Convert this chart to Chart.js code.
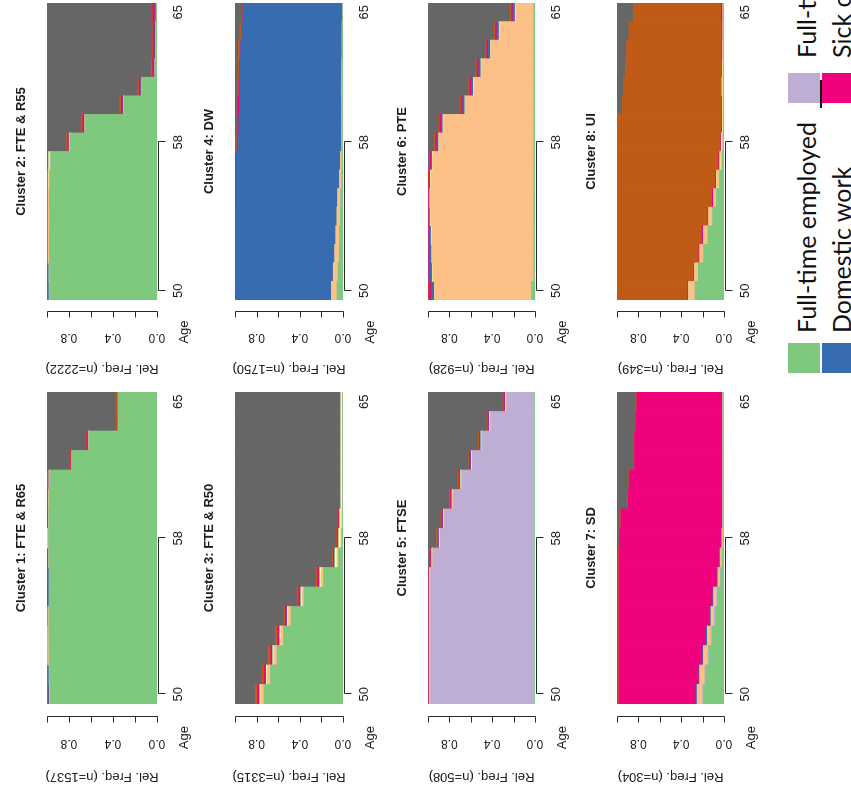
<!DOCTYPE html>
<html>
<head>
<meta charset="utf-8">
<script src="https://cdn.jsdelivr.net/npm/chart.js@4.4.1/dist/chart.umd.min.js"></script>
<style>
  html, body { margin: 0; padding: 0; background: #fff; overflow: hidden; }
  body { width: 851px; height: 792px; position: relative; }
  /* the figure is laid out upright (792 x 851) and turned a quarter turn to the left */
  #figure {
    position: absolute; left: 0; top: 0;
    width: 792px; height: 851px; overflow: hidden; background: #fff;
    transform-origin: 0 0;
    transform: translate(0px, 792px) rotate(-90deg);
  }
  #figure canvas { position: absolute; }
  .swatch { position: absolute; }
  .key { position: absolute; font-family: Lato, "Open Sans", sans-serif; font-size: 25px; color: #111; white-space: nowrap; line-height: 1; }
</style>
</head>
<body>
<div id="figure"></div>
<script>
// Ages on the horizontal axis of every panel
const ages = [50, 51, 52, 53, 54, 55, 56, 57, 58, 59, 60, 61, 62, 63, 64, 65];
const ageTickLabels = [50, 58, 65];
const ageTickMarks = [50, 58];
const freqTicks = [0, 0.2, 0.4, 0.6, 0.8, 1.0];
const freqTickLabels = [0, 0.4, 0.8];

// States, stacked from the bottom of each bar upwards
const stateNames = ["Full-time employed", "Full-time self-employed", "Part-time employed",
  "Part-time self-employed", "Domestic work", "Sick or disabled", "Unemployed/inactive", "Retired"];
const stateColors = ["#7FC97F", "#BEAED4", "#FDC086", "#FFFF99", "#386CB0", "#F0027F", "#BF5B17", "#666666"];

const clusterTitles = ["Cluster 1: FTE & R65", "Cluster 2: FTE & R55", "Cluster 3: FTE & R50", "Cluster 4: DW",
  "Cluster 5: FTSE", "Cluster 6: PTE", "Cluster 7: SD", "Cluster 8: UI"];
const clusterSizes = [1537, 2222, 3315, 1750, 508, 928, 304, 349];

// Share of each state (%) per age, one row per age 50..65
// columns: FTE, FTSE, PTE, PTSE, DW, SD, UI, R
const cluster1 = [
  [97, 0, 0.5, 0, 1, 0, 1.5, 0],
  [97.5, 0, 0.5, 0, 0.8, 0, 1.2, 0],
  [98, 0, 1.2, 0, 0.3, 0, 0.5, 0],
  [98, 0.2, 1, 0, 0.3, 0, 0.5, 0],
  [98.2, 0, 0.8, 0, 0.5, 0, 0.5, 0],
  [97.8, 0, 0.2, 0, 1.5, 0, 0.5, 0],
  [97.8, 0, 0.2, 0, 1.5, 0, 0.3, 0.2],
  [98, 0, 0.3, 0, 1.2, 0, 0.3, 0.2],
  [98.5, 0, 0.7, 0.3, 0.2, 0, 0.1, 0.2],
  [98.3, 0, 0.5, 0, 0.2, 0.2, 0.6, 0.2],
  [98, 0, 0.6, 0, 0.2, 0.2, 0.8, 0.2],
  [97.5, 0, 0.6, 0, 0.2, 0.3, 0.9, 0.5],
  [77, 0, 0.3, 0, 0.2, 0.8, 0.5, 21.2],
  [62, 0, 0.3, 0, 0.5, 1, 0.5, 35.7],
  [35, 0, 0.3, 0, 0.3, 0.6, 1.2, 62.6],
  [35, 0, 0.3, 0, 0.3, 0.4, 1.3, 62.7]
];
const cluster2 = [
  [97.5, 0, 0.5, 0, 1, 0, 0.5, 0.5],
  [97.5, 0, 0.6, 0, 0.9, 0, 0.5, 0.5],
  [97.8, 0, 1, 0.2, 0.3, 0, 0.5, 0.2],
  [97.8, 0, 1, 0.2, 0.3, 0, 0.5, 0.2],
  [97.6, 0, 1.2, 0.2, 0.3, 0, 0.5, 0.2],
  [97.8, 0, 1, 0.2, 0.3, 0, 0.5, 0.2],
  [97.5, 0, 1, 0.5, 0.3, 0, 0.5, 0.2],
  [96.5, 0, 1, 1, 0.3, 0.2, 0.5, 0.5],
  [79, 0, 0.5, 0.3, 0.2, 1.2, 1, 17.8],
  [65, 0, 0.5, 0, 0.5, 1.5, 1.5, 31],
  [30, 0, 0.5, 0, 0.5, 1.5, 1.5, 66],
  [14, 0, 0.3, 0, 0.5, 1.5, 1.2, 82.5],
  [1.5, 0, 0.3, 0, 0.7, 1.5, 1, 95],
  [1, 0, 0.2, 0, 0.8, 1.5, 1, 95.5],
  [0.8, 0, 0.2, 0, 1, 1.5, 0.5, 96],
  [0.5, 0, 0.2, 0, 1, 2, 0.3, 96]
];
const cluster3 = [
  [73, 0, 3, 1, 0.5, 1.5, 2, 19],
  [67, 0, 3, 1, 0.5, 1.5, 2, 25],
  [61, 0, 3, 1, 0.5, 1.5, 2, 31],
  [55, 0, 2.5, 1, 0.5, 1.5, 2, 37.5],
  [48, 0, 2.5, 1, 0.5, 1.5, 1.5, 45],
  [36, 0, 2, 1, 0.5, 1.5, 1.5, 57.5],
  [18, 0, 2, 1.5, 0.5, 1.5, 1.5, 75],
  [4, 0, 1.5, 2, 0.5, 1, 1, 90],
  [1, 0, 1, 2, 0.5, 1, 1, 93.5],
  [0.5, 0, 0.5, 2, 0.3, 0.7, 0.5, 95.5],
  [0.3, 0, 0.3, 1.5, 0.2, 0.5, 0.5, 96.7],
  [0.3, 0, 0.3, 1.5, 0.2, 0.5, 0.5, 96.7],
  [0.3, 0, 0.3, 1.5, 0.2, 0.5, 0.5, 96.7],
  [0.3, 0, 0.3, 1.5, 0.2, 0.5, 0.5, 96.7],
  [0.3, 0, 0.3, 1.5, 0.2, 0.5, 0.5, 96.7],
  [0.3, 0, 0.3, 1.5, 0.2, 0.5, 0.5, 96.7]
];
const cluster4 = [
  [5.5, 0, 5, 0, 89, 0, 0.5, 0],
  [4.5, 0, 4.5, 0, 90.5, 0, 0.5, 0],
  [3.5, 0, 4, 0, 92, 0, 0.5, 0],
  [3, 0, 3.5, 0, 93, 0, 0.5, 0],
  [2.5, 0, 3, 0, 94, 0, 0.5, 0],
  [2, 0, 2.8, 0, 94.5, 0.2, 0.5, 0],
  [1.2, 0, 2, 0, 95.8, 0.5, 0.5, 0],
  [0.8, 0, 1.5, 0, 96.5, 0.5, 0.5, 0.2],
  [0.4, 0.2, 0.4, 0, 96.5, 0.5, 0.5, 1.5],
  [0.4, 0.2, 0.4, 0, 95.5, 1, 0.5, 2],
  [0.4, 0.3, 0.3, 0, 95, 1.5, 0.5, 2],
  [0.5, 0.3, 0.3, 0, 95, 0.3, 1, 2.6],
  [0.5, 0.2, 0.3, 0, 94.5, 0.3, 1.5, 2.7],
  [0.5, 0, 0.3, 0, 94, 0.2, 2, 3],
  [0.5, 0, 0.3, 0, 93.2, 0, 1.5, 4.5],
  [0.3, 0, 0.3, 0, 92, 0, 0.4, 7]
];
const cluster5 = [
  [0.5, 97, 0.5, 0.5, 0.5, 0.3, 0.5, 0.2],
  [0.5, 97, 0.5, 0.5, 0.5, 0.3, 0.5, 0.2],
  [0.5, 97, 0.5, 0.5, 0.5, 0.3, 0.5, 0.2],
  [0.5, 97, 0.5, 0.5, 0.5, 0.3, 0.5, 0.2],
  [0.5, 97, 0.5, 0.5, 0.5, 0.3, 0.5, 0.2],
  [0.5, 97, 0.5, 0.5, 0.5, 0.3, 0.5, 0.2],
  [0.5, 97, 0.5, 0.5, 0.5, 0.3, 0.5, 0.2],
  [0.5, 95, 0.5, 0.5, 0.5, 0.5, 0.5, 2],
  [0.5, 88, 0.5, 0.5, 0.5, 0.5, 1.5, 8],
  [0.5, 84, 0.5, 0.5, 0.5, 1, 1, 12],
  [0.5, 76, 0.5, 0.5, 0.5, 1, 1, 20],
  [0.5, 68, 0.5, 0.5, 0.5, 1, 1, 28],
  [0.5, 58, 0.5, 0.5, 0.5, 1, 1, 38],
  [0.5, 49, 0.5, 0.5, 0.5, 1, 1, 47],
  [0.5, 41, 0.5, 0.5, 0.5, 1, 1, 55],
  [0.5, 26, 0.5, 0.5, 0.5, 1, 1, 70]
];
const cluster6 = [
  [3, 0, 91, 0, 3, 2, 1, 0],
  [1, 0, 94.5, 0.5, 3, 0.5, 0.5, 0],
  [1, 0, 95, 0.5, 2.5, 0.5, 0.5, 0],
  [1, 0, 95.5, 0.5, 2, 0.5, 0.5, 0],
  [1, 0.5, 96, 0.5, 1, 0.5, 0.5, 0],
  [1, 0.3, 96.5, 0.5, 0.7, 0.5, 0.5, 0],
  [1, 0.2, 96, 0.5, 0.5, 1, 0.5, 0.3],
  [1, 0, 94.5, 0.5, 1, 1, 0.5, 1.5],
  [1, 0, 88.5, 0.5, 1.5, 1.5, 1, 6],
  [1, 0, 84.5, 0.5, 1.5, 1.5, 1, 10],
  [1, 0, 64, 0.5, 2, 1.5, 1, 30],
  [1, 0, 56, 0.5, 2, 1.5, 1, 38],
  [1, 0, 49, 0.5, 2, 1.5, 1, 45],
  [1, 0, 40, 0.5, 2, 1.5, 1, 54],
  [1, 0, 32, 0.5, 2, 1.5, 1, 62],
  [1, 0, 17, 0.5, 2, 1.5, 1, 77]
];
const cluster7 = [
  [19, 1, 5, 0, 1, 72, 1, 1],
  [17, 1, 4.5, 0, 1, 74.5, 1, 1],
  [14, 1, 4, 0, 1, 78, 1, 1],
  [11, 1, 3.5, 0, 1, 81.5, 1, 1],
  [8, 1, 3, 0, 1, 85, 1, 1],
  [6, 1, 2.5, 0, 1, 87.5, 1, 1],
  [3, 0.5, 2, 0, 1, 91.5, 1, 1],
  [1.5, 0.5, 1.5, 0, 1, 93.5, 1, 1],
  [0.5, 0.3, 1, 0, 0.7, 95, 0.5, 2],
  [0.3, 0.2, 0.5, 0, 0.5, 95, 0.5, 3],
  [0.3, 0.2, 0.5, 0, 0.5, 88, 0.5, 10],
  [0.3, 0.2, 0.5, 0, 0.5, 87, 0.5, 11],
  [0.3, 0.2, 0.5, 0, 0.5, 82, 0.5, 16],
  [0.3, 0.2, 0.5, 0, 0.5, 82, 0.5, 16],
  [0.3, 0.2, 0.5, 0, 0.5, 81, 0.5, 17],
  [0.3, 0.2, 0.5, 0, 0.5, 80, 0.5, 18]
];
const cluster8 = [
  [27, 0, 6, 0, 0.5, 0.5, 66, 0],
  [24, 0, 3.5, 0, 0.5, 0.5, 71.5, 0],
  [19, 0, 3.5, 0, 0.5, 0.5, 76.5, 0],
  [15, 0, 4, 0, 0.5, 1, 79.5, 0],
  [10.5, 0, 4, 0, 0, 1, 84.5, 0],
  [7, 0, 3, 0, 0, 1, 89, 0],
  [4, 0, 2.5, 0.5, 0, 1, 92, 0],
  [1.5, 0, 1.5, 1, 0, 1, 95, 0],
  [0.8, 0, 0.7, 1, 0, 0.5, 97, 0],
  [0.5, 0, 0.5, 0.5, 0, 0.5, 98, 0],
  [0.5, 0, 0.5, 0.5, 0, 0.5, 93, 5],
  [0.5, 0, 0.5, 1, 0, 0.5, 91.5, 6],
  [0.5, 0, 0.5, 0.5, 0, 0.5, 90, 8],
  [0.5, 0.5, 0.5, 0, 0, 0.5, 89, 9],
  [0.5, 0, 0.5, 0, 0, 1, 87, 11],
  [0.5, 0, 0.5, 0, 0, 1.5, 82, 15.5]
];
const clusters = [cluster1, cluster2, cluster3, cluster4, cluster5, cluster6, cluster7, cluster8];

// Visible legend entries (indices into stateNames)
const legendStates = [0, 4, 1, 5];

// ---- layout (upright figure coordinates) ----
const leftCol = { left: 88, right: 400, stretch: 1.05 };
const rightCol = { left: 492, right: 789, stretch: 1 };
const rows = [[47, 157], [235, 343], [428, 535], [617, 724]];
const PAD = { left: 92, top: 45, right: 3, bottom: 45 };

const FONT = '"Liberation Sans", Arial, sans-serif';

// Draws the panel title, the age axis and the relative-frequency axis
const panelAxes = {
  id: 'panelAxes',
  afterDraw(chart, args, o) {
    const { ctx, chartArea: a, scales: { x, y } } = chart;
    const k = o.stretch;
    ctx.save();
    ctx.fillStyle = '#1b1b1b';
    ctx.strokeStyle = '#2a2a2a';
    ctx.lineWidth = 1;

    ctx.textAlign = 'center';
    ctx.textBaseline = 'middle';
    ctx.font = 'bold 13px ' + FONT;
    ctx.fillText(o.title, (a.left + a.right) / 2, a.top - 26);

    // age axis
    const px = v => x.getPixelForValue(ages.indexOf(v));
    const ay = Math.round(a.bottom + 1) + 0.5;
    ctx.beginPath();
    ctx.moveTo(Math.round(px(ageTickMarks[0])) + 0.5, ay);
    ctx.lineTo(Math.round(px(ageTickMarks[ageTickMarks.length - 1])) + 0.5, ay);
    ageTickMarks.forEach(v => {
      const t = Math.round(px(v)) + 0.5;
      ctx.moveTo(t, ay);
      ctx.lineTo(t, ay + 7);
    });
    ctx.stroke();
    ctx.font = '13px ' + FONT;
    ageTickLabels.forEach(v => ctx.fillText(String(v), px(v), a.bottom + 21));
    ctx.fillText('Age', a.left - 32 * k, a.bottom + 27);

    // relative frequency axis
    const fx = Math.round(a.left - 12 * k) + 0.5;
    ctx.beginPath();
    ctx.moveTo(fx, Math.round(y.getPixelForValue(0)) + 0.5);
    ctx.lineTo(fx, Math.round(y.getPixelForValue(100)) + 0.5);
    freqTicks.forEach(v => {
      const t = Math.round(y.getPixelForValue(v * 100)) + 0.5;
      ctx.moveTo(fx, t);
      ctx.lineTo(fx - 6, t);
    });
    ctx.stroke();
    ctx.font = '12px ' + FONT;
    freqTickLabels.forEach(v => {
      ctx.save();
      ctx.translate(a.left - 37 * k, y.getPixelForValue(v * 100));
      ctx.rotate(-Math.PI / 2);
      ctx.fillText(v.toFixed(1), 0, 0);
      ctx.restore();
    });
    ctx.save();
    ctx.translate(a.left - 69 * k, (a.top + a.bottom) / 2);
    ctx.rotate(-Math.PI / 2);
    ctx.font = '13px ' + FONT;
    ctx.fillText('Rel. Freq. (n=' + o.n + ')', 0, 0);
    ctx.restore();
    ctx.restore();
  }
};

const fig = document.getElementById('figure');

clusters.forEach((rowsData, i) => {
  const col = i % 2 === 0 ? leftCol : rightCol;
  const [top, bottom] = rows[Math.floor(i / 2)];
  const canvas = document.createElement('canvas');
  const w = col.right - col.left + PAD.left + PAD.right;
  const h = bottom - top + PAD.top + PAD.bottom;
  canvas.width = w; canvas.height = h;
  canvas.style.width = w + 'px'; canvas.style.height = h + 'px';
  canvas.style.left = (col.left - PAD.left) + 'px';
  canvas.style.top = (top - PAD.top) + 'px';
  fig.appendChild(canvas);

  const datasets = stateNames.map((name, s) => ({
    label: name,
    data: rowsData.map(r => r[s]),
    backgroundColor: stateColors[s],
    borderWidth: 0,
    barPercentage: 1,
    categoryPercentage: 1
  }));

  new Chart(canvas, {
    type: 'bar',
    data: { labels: ages.map(String), datasets },
    options: {
      responsive: false,
      animation: false,
      devicePixelRatio: 1,
      layout: { padding: PAD },
      plugins: {
        legend: { display: false },
        tooltip: { enabled: false },
        panelAxes: { title: clusterTitles[i], n: clusterSizes[i], stretch: col.stretch }
      },
      scales: {
        x: { type: 'category', stacked: true, display: false },
        y: { type: 'linear', stacked: true, display: false, min: 0, max: 100 }
      }
    },
    plugins: [panelAxes]
  });
});

// legend: two rows, filled row by row
const keyBoxes = [
  { sx: 419, sy: 788, tx: 459, ty: 794 },
  { sx: 419, sy: 822, tx: 459, ty: 829 },
  { sx: 689, sy: 788, tx: 734, ty: 794 },
  { sx: 689, sy: 822, tx: 734, ty: 829 }
];
legendStates.forEach((s, j) => {
  const b = keyBoxes[j];
  const sw = document.createElement('div');
  sw.className = 'swatch';
  sw.style.cssText = `left:${b.sx}px;top:${b.sy}px;width:30px;height:32px;background:${stateColors[s]}`;
  fig.appendChild(sw);
  const t = document.createElement('div');
  t.className = 'key';
  t.style.left = b.tx + 'px';
  t.style.top = b.ty + 'px';
  t.textContent = stateNames[s];
  fig.appendChild(t);
});
const rule = document.createElement('div');
rule.style.cssText = 'position:absolute;left:684px;top:820px;width:28px;height:2px;background:#111';
fig.appendChild(rule);
</script>
</body>
</html>
